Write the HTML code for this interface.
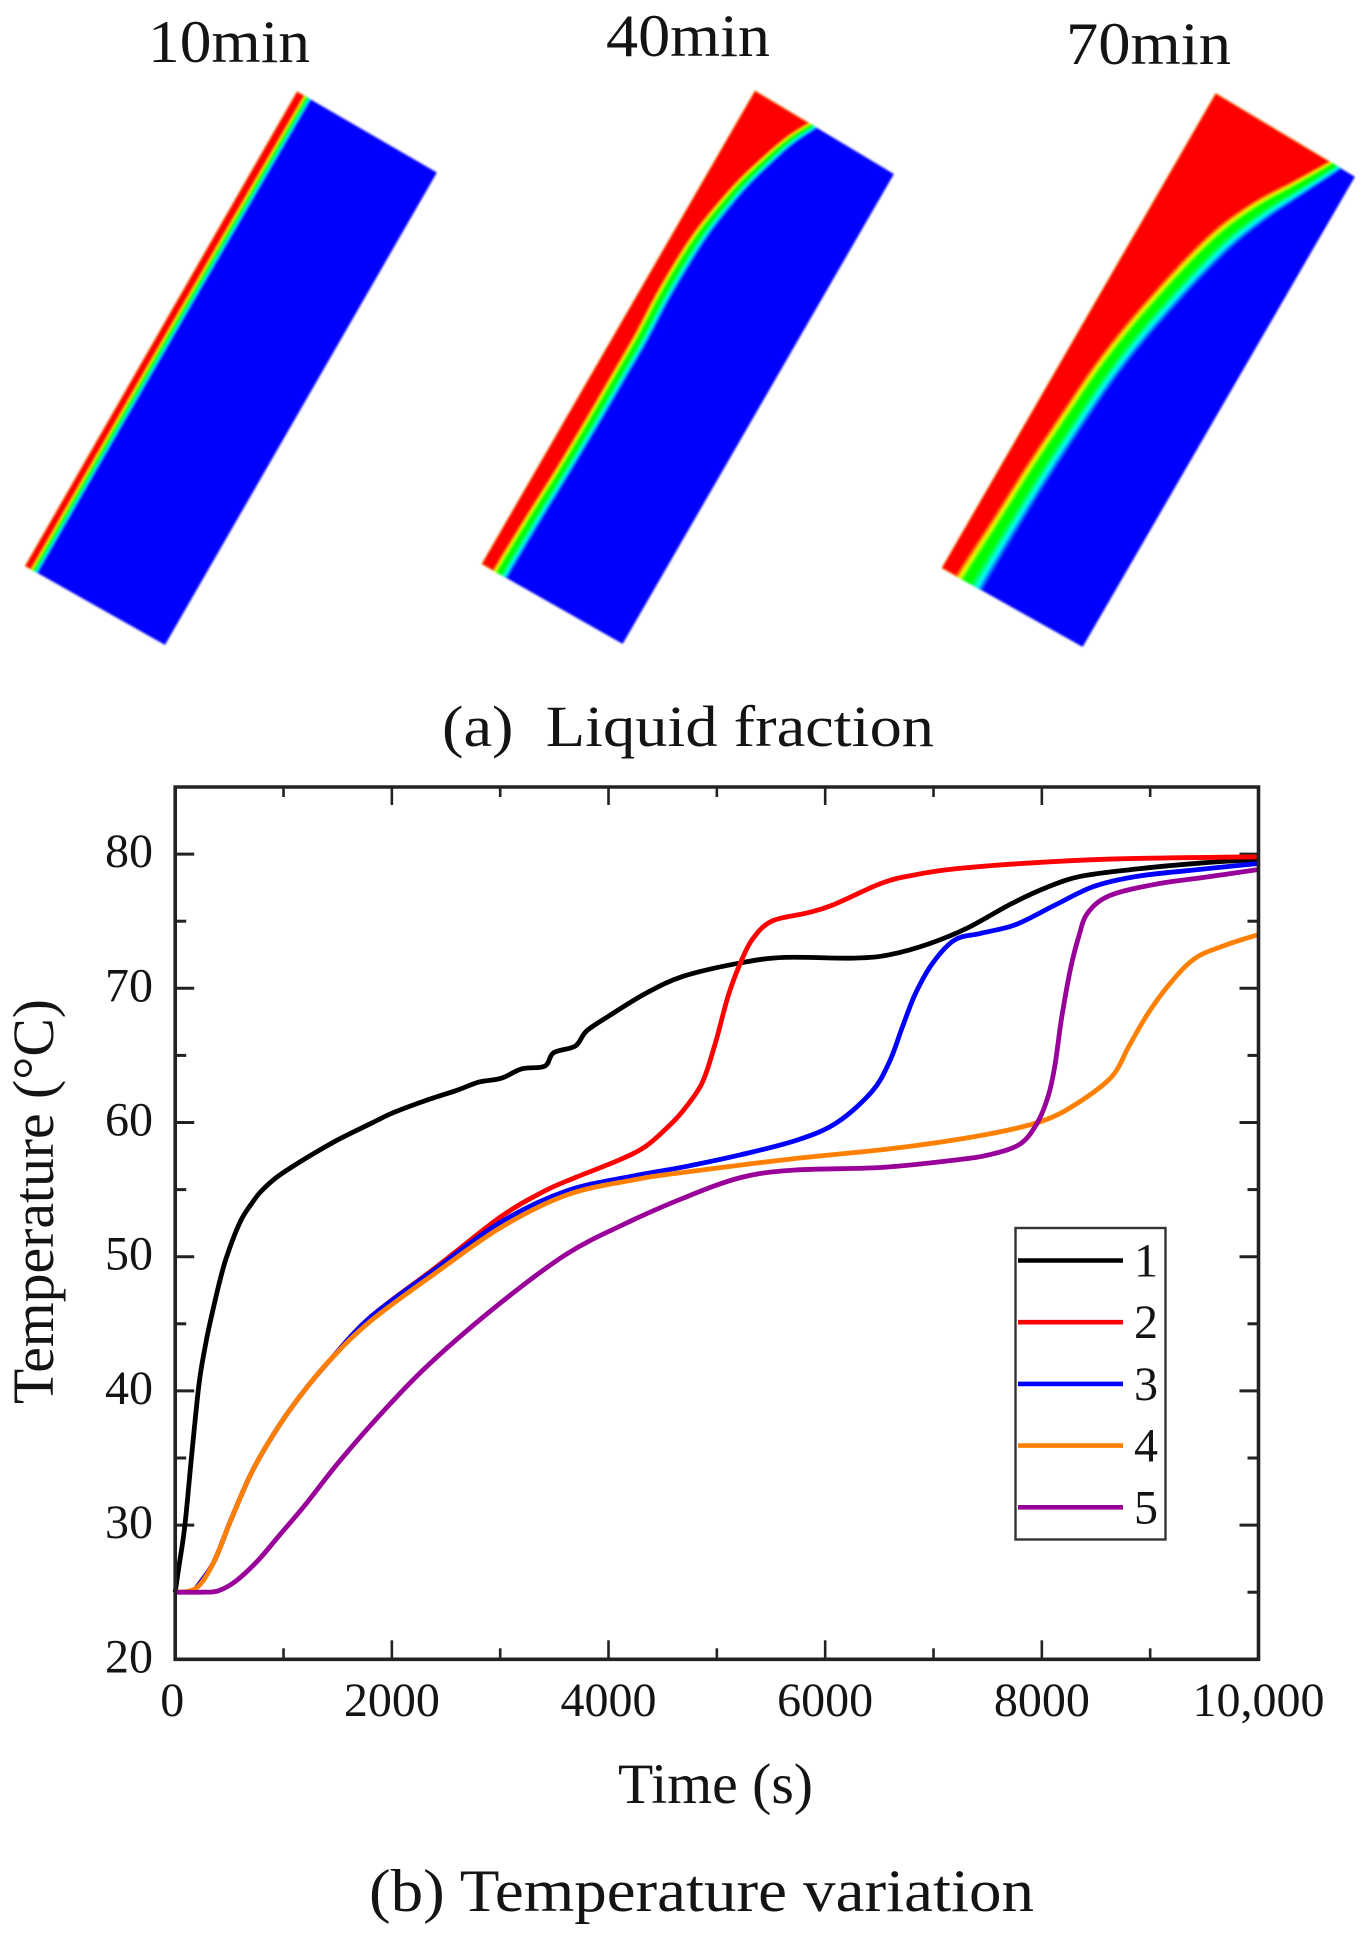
<!DOCTYPE html>
<html lang="en">
<head>
<meta charset="utf-8">
<title>Liquid fraction and temperature variation</title>
<style>
  html, body { margin: 0; padding: 0; background: #fff; }
  svg { display: block; }
  text { font-family: "Liberation Serif", "Times New Roman", serif; fill: #141414; }
</style>
</head>
<body>
<svg id="fig" xmlns="http://www.w3.org/2000/svg" width="1368" height="1941" viewBox="0 0 1368 1941">
  <defs id="defs">
    <filter id="soft" x="-5%" y="-5%" width="110%" height="110%"><feGaussianBlur stdDeviation="1"/></filter>
  </defs>
  <rect width="1368" height="1941" fill="#fff"/>

  <text x="148" y="62" font-size="60" textLength="162" lengthAdjust="spacingAndGlyphs">10min</text>
  <text x="606" y="56" font-size="60" textLength="164" lengthAdjust="spacingAndGlyphs">40min</text>
  <text x="1066" y="64" font-size="60" textLength="165" lengthAdjust="spacingAndGlyphs">70min</text>

  <g id="panels" filter="url(#soft)"></g>

  <text x="442" y="746" font-size="58" textLength="492" lengthAdjust="spacingAndGlyphs" xml:space="preserve">(a)  Liquid fraction</text>

  <g id="plot"></g>

  <text x="618" y="1803" font-size="57" textLength="195" lengthAdjust="spacingAndGlyphs">Time (s)</text>
  <text transform="translate(53 1404) rotate(-90)" font-size="58" textLength="405" lengthAdjust="spacingAndGlyphs">Temperature (°C)</text>
  <text x="369" y="1911" font-size="60" textLength="665" lengthAdjust="spacingAndGlyphs">(b) Temperature variation</text>
</svg>

<script>
// ---- chart data ----
const xTickValues = [0, 2000, 4000, 6000, 8000, 10000];
const xTickLabels = ['0', '2000', '4000', '6000', '8000', '10,000'];
const xMinorValues = [1000, 3000, 5000, 7000, 9000];
const yTickValues = [20, 30, 40, 50, 60, 70, 80];
const yTickLabels = ['20', '30', '40', '50', '60', '70', '80'];
const yMinorValues = [25, 35, 45, 55, 65, 75];
const seriesNames = ['1', '2', '3', '4', '5'];

const time1 = [0, 32, 90, 153, 220, 274, 314, 400, 475, 600, 700, 797, 950, 1199, 1500, 1800, 2004, 2300, 2600, 2800, 3010, 3200, 3412, 3493, 3694, 3795, 3996, 4338, 4692, 5223, 5626, 6270, 6591, 6954, 7316, 7718, 8040, 8362, 8885, 9489, 10000];
const temp1 = [25, 26.8, 30, 35.3, 40.5, 43.2, 44.8, 47.8, 50, 52.6, 53.9, 54.9, 56, 57.3, 58.7, 59.9, 60.7, 61.6, 62.4, 63, 63.3, 64, 64.2, 65.2, 65.7, 66.8, 67.9, 69.6, 70.9, 71.9, 72.3, 72.25, 72.5, 73.3, 74.5, 76.3, 77.5, 78.35, 78.9, 79.35, 79.6];

const time2 = [193, 354, 515, 716, 958, 1199, 1441, 1803, 2406, 3010, 3412, 3694, 4097, 4338, 4539, 4680, 4861, 4982, 5103, 5203, 5324, 5505, 5827, 6068, 6511, 6793, 7195, 7920, 8724, 10000];
const temp2 = [25.3, 27.2, 30.4, 34.1, 37.4, 40.1, 42.4, 45.5, 49.2, 53, 54.9, 55.9, 57.2, 58.2, 59.6, 60.8, 62.9, 65.8, 69.4, 71.6, 73.6, 75, 75.6, 76.2, 77.8, 78.4, 78.9, 79.35, 79.65, 79.8];

const time3 = [193, 354, 515, 716, 958, 1199, 1441, 1803, 2406, 3010, 3614, 4217, 4700, 5223, 5746, 6109, 6431, 6592, 6712, 6833, 6994, 7195, 7437, 7759, 8121, 8483, 8885, 9449, 10000];
const temp3 = [25.3, 27.2, 30.4, 34.1, 37.4, 40.1, 42.4, 45.5, 49.1, 52.6, 54.9, 56, 56.7, 57.6, 58.7, 60, 62.3, 64.5, 67.1, 69.6, 71.9, 73.6, 74.1, 74.75, 76.2, 77.6, 78.35, 78.85, 79.3];

const time4 = [0, 193, 354, 515, 716, 958, 1199, 1441, 1803, 2406, 3010, 3614, 4217, 4700, 5706, 6712, 7517, 8000, 8322, 8644, 8805, 8966, 9167, 9408, 9690, 10000];
const temp4 = [25, 25.3, 27.2, 30.4, 34.1, 37.4, 40.1, 42.4, 45.2, 48.8, 52.2, 54.6, 55.7, 56.3, 57.3, 58.15, 59.15, 60.1, 61.4, 63.4, 65.7, 67.95, 70.2, 72.2, 73.2, 74];

const time5 = [0, 250, 394, 555, 757, 958, 1199, 1521, 1924, 2346, 3010, 3614, 4137, 4700, 5223, 5706, 6511, 7195, 7517, 7799, 7960, 8060, 8121, 8181, 8262, 8342, 8422, 8624, 9046, 9529, 10000];
const temp5 = [25, 25, 25.1, 25.8, 27.3, 29.2, 31.5, 34.8, 38.5, 42, 46.6, 50.2, 52.4, 54.4, 55.9, 56.45, 56.65, 57.2, 57.6, 58.4, 60, 62, 64.25, 67.7, 71.35, 73.9, 75.6, 76.9, 77.75, 78.3, 78.85];

const NS = 'http://www.w3.org/2000/svg';
const plot = document.getElementById('plot');
const panels = document.getElementById('panels');
const defs = document.getElementById('defs');

// ---- axis functions ----
const X0 = 175.2, X1 = 1258.5, YB = 1659.3, YT = 787;
function xScale(t) { return X0 + (t / 10000) * (X1 - X0); }
function yScale(v) { return YB - ((v - 20) / 65) * (YB - YT); }

function splinePath(pts) {
  let d = 'M' + pts[0][0].toFixed(1) + ' ' + pts[0][1].toFixed(1);
  for (let i = 0; i < pts.length - 1; i++) {
    const p0 = pts[Math.max(0, i - 1)], p1 = pts[i], p2 = pts[i + 1], p3 = pts[Math.min(pts.length - 1, i + 2)];
    const c1x = p1[0] + (p2[0] - p0[0]) / 6, c1y = p1[1] + (p2[1] - p0[1]) / 6;
    const c2x = p2[0] - (p3[0] - p1[0]) / 6, c2y = p2[1] - (p3[1] - p1[1]) / 6;
    d += 'C' + c1x.toFixed(1) + ' ' + c1y.toFixed(1) + ' ' + c2x.toFixed(1) + ' ' + c2y.toFixed(1) + ' ' + p2[0].toFixed(1) + ' ' + p2[1].toFixed(1);
  }
  return d;
}

function line(x1, y1, x2, y2, w, color) {
  const el = document.createElementNS(NS, 'line');
  el.setAttribute('x1', x1);
  el.setAttribute('y1', y1);
  el.setAttribute('x2', x2);
  el.setAttribute('y2', y2);
  el.setAttribute('stroke', color);
  el.setAttribute('stroke-width', w);
  return el;
}

function label(str, x, y, size, anchor) {
  const el = document.createElementNS(NS, 'text');
  el.setAttribute('x', x);
  el.setAttribute('y', y);
  el.setAttribute('font-size', size);
  el.setAttribute('text-anchor', anchor);
  el.textContent = str;
  return el;
}

// ---- liquid fraction contour panels (pixel geometry of the drawing) ----
// centre = green mid-line of the melt front, width = perpendicular thickness of the gradient
const panelGeometry = [
  { name: 'panel-10min',
    outline: [[297, 91.5], [437, 172.5], [165, 645], [25, 566]],
    centre: [[311.6, 90], [169, 336], [30, 578]],
    width: [8, 8, 8] },
  { name: 'panel-40min',
    outline: [[755, 90.7], [894, 174], [622.7, 644], [481.7, 564]],
    centre: [[828, 115], [813, 125], [790, 140], [768, 159], [743, 183], [722, 207], [703, 231], [685, 258], [662, 297], [641, 337], [619, 375], [594, 418], [563, 470], [532, 520], [502, 570], [491, 590]],
    width: [9, 9, 10, 11, 12, 13, 14, 15, 15, 15, 15, 15, 15, 16, 17, 17] },
  { name: 'panel-70min',
    outline: [[1215.7, 93.3], [1355, 176.7], [1082.7, 647], [941.7, 568]],
    centre: [[1345, 158], [1335, 165], [1297, 188], [1263, 208], [1230, 232], [1203, 257], [1170, 292], [1135, 332], [1103, 373], [1071, 420], [1038, 470], [1005, 523], [974, 573], [963, 592]],
    width: [12, 13, 17, 22, 25, 26, 26, 26, 26, 26, 27, 28, 31, 33] }
];

function jet(f) {
  const stops = [[0, 0, 0, 255], [0.2, 0, 255, 255], [0.45, 0, 255, 0], [0.7, 0, 255, 0], [0.85, 255, 255, 0], [1, 255, 0, 0]];
  for (let i = 0; i < stops.length - 1; i++) {
    const a = stops[i], b = stops[i + 1];
    if (f <= b[0]) {
      const k = (f - a[0]) / (b[0] - a[0]);
      return 'rgb(' + Math.round(a[1] + (b[1] - a[1]) * k) + ',' + Math.round(a[2] + (b[2] - a[2]) * k) + ',' + Math.round(a[3] + (b[3] - a[3]) * k) + ')';
    }
  }
  return 'rgb(255,0,0)';
}

// offset f: 0 = blue side of the front, 1 = red side. Red side faces the upper-left of the panel.
function offsetCurve(p, f) {
  const c = p.centre;
  return c.map(function (q, j) {
    const a = c[Math.max(0, j - 1)], b = c[Math.min(c.length - 1, j + 1)];
    const dx = b[0] - a[0], dy = b[1] - a[1], len = Math.hypot(dx, dy);
    const nx = dy / len * -1, ny = dx / len;
    const d = (f - 0.55) * p.width[j];
    return [q[0] + nx * d, q[1] + ny * d];
  });
}

panelGeometry.forEach(function (p) {
  const clip = document.createElementNS(NS, 'clipPath');
  clip.setAttribute('id', 'clip-' + p.name);
  const clipPoly = document.createElementNS(NS, 'polygon');
  clipPoly.setAttribute('points', p.outline.map(function (q) { return q.join(','); }).join(' '));
  clip.appendChild(clipPoly);
  defs.appendChild(clip);

  const g = document.createElementNS(NS, 'g');
  
  
  g.setAttribute('clip-path', 'url(#clip-' + p.name + ')');
  const base = document.createElementNS(NS, 'polygon');
  base.setAttribute('points', p.outline.map(function (q) { return q.join(','); }).join(' '));
  base.setAttribute('fill', '#0000ff');
  
  
  g.appendChild(base);
  const N = 24;
  for (let i = 1; i <= N; i++) {
    const f = i / N;
    const curve = offsetCurve(p, f);
    const band = document.createElementNS(NS, 'path');
    const tl = p.outline[0], bl = p.outline[3];
    band.setAttribute('d', 'M' + (tl[0] - 30) + ' ' + (tl[1] - 30) + 'L' + splinePath(curve).slice(1) + 'L' + (bl[0] - 30) + ' ' + (bl[1] + 30) + 'Z');
    band.setAttribute('fill', jet(f));
    
    
    g.appendChild(band);
  }
  panels.appendChild(g);
});

// ---- axes ----
const axisColor = '#222';
yTickValues.forEach(function (v, i) {
  const y = yScale(v);
  const left = line(X0, y, X0 + 19, y, 3, axisColor);
  
  
  plot.appendChild(left);
  const right = line(X1, y, X1 - 19, y, 3, axisColor);
  
  
  plot.appendChild(right);
  const t = label(yTickLabels[i], 153, y + 13, 48, 'end');
  
  
  plot.appendChild(t);
});
yMinorValues.forEach(function (v) {
  const y = yScale(v);
  const left = line(X0, y, X0 + 11, y, 3, axisColor);
  
  
  plot.appendChild(left);
  const right = line(X1, y, X1 - 11, y, 3, axisColor);
  
  
  plot.appendChild(right);
});
xTickValues.forEach(function (v, i) {
  const x = xScale(v);
  const t = label(xTickLabels[i], v === 0 ? x - 3 : x, 1716, 48, 'middle');
  
  
  plot.appendChild(t);
  if (v === 0 || v === 10000) return;
  const bottom = line(x, YB, x, YB - 19, 2.6, axisColor);
  
  
  plot.appendChild(bottom);
  const top = line(x, YT, x, YT + 18, 2.6, axisColor);
  
  
  plot.appendChild(top);
});
xMinorValues.forEach(function (v) {
  const x = xScale(v);
  const bottom = line(x, YB, x, YB - 11, 2.6, axisColor);
  
  
  plot.appendChild(bottom);
  const top = line(x, YT, x, YT + 10, 2.6, axisColor);
  
  
  plot.appendChild(top);
});

// ---- series ----
const seriesTimes = [time1, time2, time3, time4, time5];
const seriesTemps = [temp1, temp2, temp3, temp4, temp5];
const seriesColors = ['#000000', '#ff0000', '#0000ff', '#ff8000', '#990099'];

seriesNames.forEach(function (name, s) {
  const pts = seriesTimes[s].map(function (t, i) { return [xScale(t), yScale(seriesTemps[s][i])]; });
  const path = document.createElementNS(NS, 'path');
  path.setAttribute('d', splinePath(pts));
  path.setAttribute('fill', 'none');
  path.setAttribute('stroke', seriesColors[s]);
  path.setAttribute('stroke-width', 4.8);
  path.setAttribute('stroke-linejoin', 'round');
  
  
  plot.appendChild(path);
});

// ---- frame ----
const frame = document.createElementNS(NS, 'path');
frame.setAttribute('d', 'M' + X0 + ' ' + YT + 'H' + X1 + 'V' + YB + 'H' + X0 + 'Z');
frame.setAttribute('fill', 'none');
frame.setAttribute('stroke', axisColor);
frame.setAttribute('stroke-width', 3.6);


plot.appendChild(frame);

// ---- legend ----
const legendBox = document.createElementNS(NS, 'rect');
legendBox.setAttribute('x', 1015.5);
legendBox.setAttribute('y', 1228);
legendBox.setAttribute('width', 150);
legendBox.setAttribute('height', 311.5);
legendBox.setAttribute('fill', 'none');
legendBox.setAttribute('stroke', '#333');
legendBox.setAttribute('stroke-width', 2.4);


plot.appendChild(legendBox);

seriesNames.forEach(function (name, s) {
  const y = 1260.5 + s * 61.7;
  const swatch = line(1018, y, 1123, y, 4.6, seriesColors[s]);
  
  
  plot.appendChild(swatch);
  const t = label(name, 1146, y + 16, 48, 'middle');
  
  
  plot.appendChild(t);
});
</script>
</body>
</html>
